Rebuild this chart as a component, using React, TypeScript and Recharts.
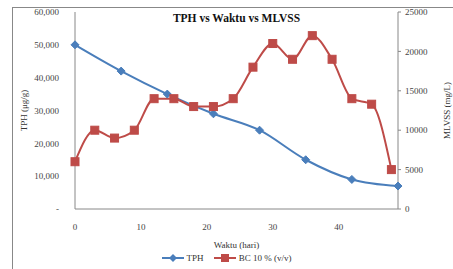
import React from 'react';
import { LineChart, Line, XAxis, YAxis, Legend, Label } from 'recharts';

const tphDays = [0, 7, 14, 21, 28, 35, 42, 49];
const tphValues = [50000, 42000, 35000, 29000, 24000, 15000, 9000, 7000];
const bcDays = [0, 3, 6, 9, 12, 15, 18, 21, 24, 27, 30, 33, 36, 39, 42, 45, 48];
const bcValues = [6000, 10000, 9000, 10000, 14000, 14000, 13000, 13000, 14000, 18000, 21000, 19000, 22000, 19000, 14000, 13300, 5000];
const xTicks = [0, 10, 20, 30, 40];
const leftTicks = [0, 10000, 20000, 30000, 40000, 50000, 60000];
const rightTicks = [0, 5000, 10000, 15000, 20000, 25000];

const BLUE = '#4A7EBB';
const RED = '#BE4B48';
const FONT = '"Liberation Serif", "Times New Roman", serif';

const tphData = tphDays.map((d, i) => ({ day: d, tph: tphValues[i] }));
const bcData = bcDays.map((d, i) => ({ day: d, bc: bcValues[i] }));

const fmtLeft = (v: number) => (v === 0 ? '-' : v.toLocaleString('en-US'));

const Diamond = (props: any) => {
  const { cx, cy, index } = props;
  if (cx == null || cy == null) return <g key={index} />;
  const s = 4;
  return <path key={index} d={`M${cx},${cy - s}L${cx + s},${cy}L${cx},${cy + s}L${cx - s},${cy}Z`} fill={BLUE} stroke={BLUE} />;
};
const Square = (props: any) => {
  const { cx, cy, index } = props;
  if (cx == null || cy == null) return <g key={index} />;
  const s = 4;
  return <rect key={index} x={cx - s} y={cy - s} width={2 * s} height={2 * s} fill={RED} stroke={RED} />;
};

const LegendContent = () => (
  <div style={{ display: 'flex', justifyContent: 'center', alignItems: 'center', fontFamily: FONT, fontSize: 9, color: '#333', height: 12 }}>
    <svg width={22} height={10}>
      <line x1={0} y1={5} x2={22} y2={5} stroke={BLUE} strokeWidth={2} />
      <path d="M11,1L15,5L11,9L7,5Z" fill={BLUE} />
    </svg>
    <span style={{ marginLeft: 3, marginRight: 10 }}>TPH</span>
    <svg width={22} height={10}>
      <line x1={0} y1={5} x2={22} y2={5} stroke={RED} strokeWidth={2} />
      <rect x={7} y={1} width={8} height={8} fill={RED} />
    </svg>
    <span style={{ marginLeft: 3 }}>BC 10 % (v/v)</span>
  </div>
);

export default function App() {
  return (
    <div style={{ position: 'absolute', left: 0, top: 0, width: 453, height: 269, overflow: 'hidden', background: '#fff' }}>
      <div style={{ position: 'absolute', left: 12, top: 7, width: 460, height: 280, borderLeft: '1px solid #888', borderTop: '1px solid #888' }} />
      <div style={{ position: 'absolute', left: 75, width: 323, top: 12, textAlign: 'center', fontFamily: FONT, fontWeight: 'bold', fontSize: 11.5, color: '#111' }}>
        TPH vs Waktu vs MLVSS
      </div>
      <LineChart width={453} height={269} margin={{ top: 12, right: 15, left: 35, bottom: 0 }}>
        <XAxis
          dataKey="day"
          type="number"
          domain={[0, 49]}
          ticks={xTicks}
          allowDuplicatedCategory={false}
          axisLine={{ stroke: '#888' }}
          tickLine={false}
          tickMargin={9}
          height={48}
          tick={{ fontSize: 9, fontFamily: FONT, fill: '#444' }}
        >
          <Label value="Waktu (hari)" position="insideTop" offset={33} style={{ fontSize: 9, fontFamily: FONT, fill: '#333' }} />
        </XAxis>
        <YAxis
          yAxisId="left"
          domain={[0, 60000]}
          ticks={leftTicks}
          tickFormatter={fmtLeft}
          width={40}
          axisLine={{ stroke: '#888' }}
          tickLine={false}
          tickMargin={10}
          tick={{ fontSize: 9, fontFamily: FONT, fill: '#444' }}
        >
          <Label value="TPH (μg/g)" angle={-90} position="left" offset={11} style={{ fontSize: 9, fontFamily: FONT, fill: '#333', textAnchor: 'middle' }} />
        </YAxis>
        <YAxis
          yAxisId="right"
          orientation="right"
          domain={[0, 25000]}
          ticks={rightTicks}
          width={40}
          axisLine={{ stroke: '#888' }}
          tickLine={{ stroke: '#888' }}
          tickSize={3}
          tickMargin={4}
          tick={{ fontSize: 9, fontFamily: FONT, fill: '#444' }}
        >
          <Label value="MLVSS (mg/L)" angle={-90} position="right" offset={9} style={{ fontSize: 9, fontFamily: FONT, fill: '#333', textAnchor: 'middle' }} />
        </YAxis>
        <Line
          yAxisId="left"
          data={tphData}
          dataKey="tph"
          type="monotone"
          stroke={BLUE}
          strokeWidth={2}
          dot={Diamond}
          activeDot={false}
          isAnimationActive={false}
          name="TPH"
        />
        <Line
          yAxisId="right"
          data={bcData}
          dataKey="bc"
          type="monotone"
          stroke={RED}
          strokeWidth={2}
          dot={Square}
          activeDot={false}
          isAnimationActive={false}
          name="BC 10 % (v/v)"
        />
        <Legend content={<LegendContent />} wrapperStyle={{ position: 'absolute', top: 252, left: 0, width: 453 }} />
      </LineChart>
    </div>
  );
}
